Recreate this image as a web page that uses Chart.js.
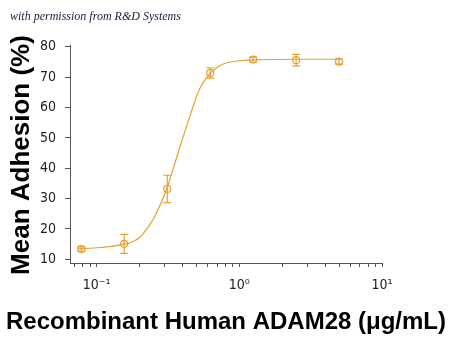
<!DOCTYPE html>
<html>
<head>
<meta charset="utf-8">
<script src="https://cdn.jsdelivr.net/npm/chart.js@4/dist/chart.umd.min.js"></script>
<style>
  html, body { margin: 0; padding: 0; background: #fff; }
  #wrap { width: 450px; height: 338px; }
</style>
</head>
<body>
<div id="wrap"><canvas id="adhesionChart" width="450" height="338"></canvas></div>
<script>
// ADAM28 concentrations (ug/mL) and measured adhesion
var concentrations = [0.078, 0.156, 0.3125, 0.625, 1.25, 2.5, 5];
var adhesion = [13.4, 15.1, 33.2, 71.4, 75.8, 75.6, 75.1];
var adhesionErr = [0.7, 3.1, 4.5, 1.7, 0.8, 1.9, 0.8];

// fitted dose-response curve
var fitConc = [0.074, 0.105, 0.157, 0.18, 0.2, 0.23, 0.255, 0.308, 0.378, 0.45, 0.523, 0.601, 0.7, 0.8, 1.0, 1.25, 2.5, 5];
var fitAdhesion = [13.5, 13.9, 15.0, 15.9, 17.2, 20.7, 24.1, 32.9, 46.1, 57.1, 65.9, 70.3, 73.3, 74.6, 75.4, 75.7, 75.9, 75.9];

var xTickValues = [0.1, 1, 10];
var xTickLabels = ['10\u207B\u00B9', '10\u2070', '10\u00B9'];
var yTickValues = [10, 20, 30, 40, 50, 60, 70, 80];

var xTitle = 'Recombinant Human ADAM28 (\u03BCg/mL)';
var yTitle = 'Mean Adhesion (%)';

var orange = '#E8A030';
var axisColor = '#555';
var titleFont = '"Liberation Sans", Arial, sans-serif';

function toPoints(xs, ys) {
    return xs.map(function (x, i) { return { x: x, y: ys[i] }; });
}

// minor log ticks between the decades
var xAllTicks = [];
[0.01, 0.1, 1].forEach(function (d) {
    for (var k = 1; k <= 9; k++) {
        var v = +(k * d).toPrecision(3);
        if (v >= 0.07) xAllTicks.push(v);
    }
});
xAllTicks.push(10);

var errorBars = {
    id: 'errorBars',
    afterDatasetsDraw: function (chart) {
        var ctx = chart.ctx;
        var xs = chart.scales.x, ys = chart.scales.y;
        ctx.save();
        ctx.strokeStyle = orange;
        ctx.lineWidth = 1.2;
        concentrations.forEach(function (c, i) {
            var px = xs.getPixelForValue(c);
            var top = ys.getPixelForValue(adhesion[i] + adhesionErr[i]);
            var bot = ys.getPixelForValue(adhesion[i] - adhesionErr[i]);
            ctx.beginPath();
            ctx.moveTo(px, top); ctx.lineTo(px, bot);
            ctx.moveTo(px - 4, top); ctx.lineTo(px + 4, top);
            ctx.moveTo(px - 4, bot); ctx.lineTo(px + 4, bot);
            ctx.stroke();
        });
        ctx.restore();
    }
};

// background, credit line and the two axis titles (drawn by hand so they are not squeezed to the axis length)
var decorations = {
    id: 'decorations',
    beforeDraw: function (chart) {
        var ctx = chart.ctx;
        ctx.save();
        ctx.fillStyle = '#fff';
        ctx.fillRect(0, 0, chart.width, chart.height);
        ctx.fillStyle = '#1c1c3c';
        ctx.font = 'italic 12px "Liberation Serif", "DejaVu Serif", serif';
        ctx.textBaseline = 'alphabetic';
        ctx.fillText('with permission from R&D Systems', 10, 20);
        ctx.restore();
    },
    afterDraw: function (chart) {
        var ctx = chart.ctx;
        var area = chart.chartArea;
        ctx.save();
        ctx.fillStyle = '#000';
        ctx.textAlign = 'center';
        ctx.textBaseline = 'middle';
        ctx.font = 'bold 24px ' + titleFont;
        ctx.fillText(xTitle, 226, 322);
        ctx.translate(22, (area.top + area.bottom) / 2 + 1);
        ctx.rotate(-Math.PI / 2);
        ctx.font = 'bold 26px ' + titleFont;
        ctx.fillText(yTitle, 0, 0);
        ctx.restore();
    }
};

var ctx = document.getElementById('adhesionChart').getContext('2d');
var chart = new Chart(ctx, {
    type: 'scatter',
    data: {
        datasets: [{
            label: 'fit',
            data: toPoints(fitConc, fitAdhesion),
            showLine: true,
            cubicInterpolationMode: 'monotone',
            borderColor: orange,
            borderWidth: 1.2,
            pointRadius: 0,
            fill: false
        }, {
            label: 'mean',
            data: toPoints(concentrations, adhesion),
            showLine: false,
            pointStyle: 'circle',
            pointRadius: 3.5,
            pointBackgroundColor: 'rgba(255,255,255,0)',
            pointBorderColor: orange,
            pointBorderWidth: 1.2
        }]
    },
    options: {
        responsive: false,
        animation: false,
        layout: { padding: { top: 45, right: 68, left: 0, bottom: 0 } },
        plugins: {
            legend: { display: false },
            tooltip: { enabled: false }
        },
        scales: {
            x: {
                type: 'logarithmic',
                min: 0.065,
                max: 10,
                afterBuildTicks: function (scale) {
                    scale.ticks = xAllTicks.map(function (v) { return { value: v }; });
                },
                afterFit: function (scale) { scale.height = 75; },
                ticks: {
                    autoSkip: false,
                    maxRotation: 0,
                    padding: 10,
                    color: '#222',
                    font: { family: '"Liberation Sans Narrow", "DejaVu Sans Condensed", sans-serif', size: 14 },
                    callback: function (value) {
                        var i = xTickValues.indexOf(value);
                        return i >= 0 ? xTickLabels[i] : '';
                    }
                },
                grid: { drawOnChartArea: false, drawTicks: true, tickLength: 4, color: axisColor },
                border: { display: true, color: axisColor, width: 1 }
            },
            y: {
                min: 8.8,
                max: 80.6,
                afterBuildTicks: function (scale) {
                    scale.ticks = yTickValues.map(function (v) { return { value: v }; });
                },
                afterFit: function (scale) { scale.width = 70; },
                ticks: {
                    padding: 9,
                    color: '#222',
                    font: { family: '"Liberation Sans Narrow", "DejaVu Sans Condensed", sans-serif', size: 14 }
                },
                grid: { drawOnChartArea: false, drawTicks: true, tickLength: 5, color: axisColor },
                border: { display: true, color: axisColor, width: 1 }
            }
        }
    },
    plugins: [decorations, errorBars]
});
</script>
</body>
</html>
